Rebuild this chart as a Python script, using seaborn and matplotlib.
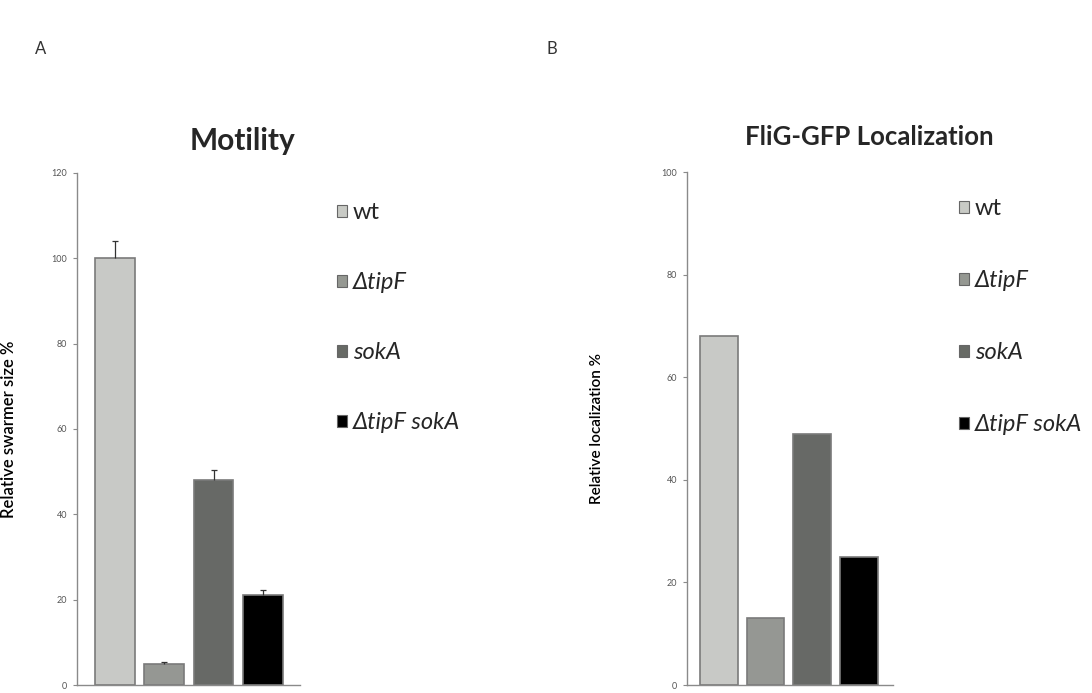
import matplotlib
matplotlib.use("Agg")
import matplotlib.pyplot as plt
import matplotlib.patches as mpatches
import seaborn as sns
import numpy as np

strains = ["wt", "ΔtipF", "sokA", "ΔtipF sokA"]
colors = ["#c8cac5", "#959892", "#676a65", "#000000"]
italic = [False, True, True, True]

# panel A: motility
motility = [100, 5, 48, 21]
motility_err = [4, 0.3, 2.5, 1.2]
motility_ticks = [0, 20, 40, 60, 80, 100, 120]

# panel B: FliG-GFP localization
localization = [68, 13, 49, 25]
localization_ticks = [0, 20, 40, 60, 80, 100]

sns.set_style("white")
plt.rcParams["font.family"] = ["Lato", "DejaVu Sans"]

fig = plt.figure(figsize=(10.92, 6.93), dpi=100)
axA = fig.add_axes([0.0705, 0.0115, 0.204, 0.739])
axB = fig.add_axes([0.629, 0.0115, 0.1886, 0.740])


def styleAxis(ax, ticks, ylabel, labelx, labelsize):
    ax.set_ylim(ticks[0], ticks[-1])
    ax.set_yticks(ticks)
    ax.set_xticks([])
    ax.set_xlabel("")
    ax.set_ylabel(ylabel, fontsize=labelsize, color="black", fontweight="semibold")
    ax.yaxis.set_label_coords(labelx, 0.5)
    for side in ["top", "right"]:
        ax.spines[side].set_visible(False)
    for side in ["left", "bottom"]:
        ax.spines[side].set_color("#8a8a8a")
        ax.spines[side].set_linewidth(1.0)
    ax.tick_params(axis="y", direction="out", length=3, width=0.8, color="#8a8a8a",
                   labelsize=6.5, labelcolor="#555555", left=True, pad=4)


def addLegend(ax, anchor, spacing):
    handles = [mpatches.Patch(facecolor=c, edgecolor="#666666", linewidth=0.8) for c in colors]
    leg = ax.legend(handles, strains, loc="upper left", bbox_to_anchor=anchor,
                    bbox_transform=fig.transFigure, frameon=False, fontsize=17,
                    labelspacing=spacing, handlelength=0.42, handleheight=0.42,
                    handletextpad=0.22, borderaxespad=0)
    for txt, it in zip(leg.get_texts(), italic):
        if it:
            txt.set_style("italic")
    return leg


# panel A
sns.barplot(x=strains, y=motility, hue=strains, palette=colors, order=strains,
            hue_order=strains, width=0.81, edgecolor="#7a7a7a", linewidth=1.2,
            legend=False, ax=axA)
_, caps, _ = axA.errorbar(np.arange(len(strains)), motility,
                          yerr=[np.zeros(len(motility)), motility_err],
                          fmt="none", ecolor="#333333", elinewidth=0.9,
                          capsize=2.5, capthick=0.9)
caps[0].set_visible(False)
axA.set_xlim(-0.77, 3.75)
styleAxis(axA, motility_ticks, "Relative swarmer size %", -0.27, 12)
addLegend(axA, (0.3004, 0.722), 2.08)

# panel B
sns.barplot(x=strains, y=localization, hue=strains, palette=colors, order=strains,
            hue_order=strains, width=0.81, edgecolor="#7a7a7a", linewidth=1.2,
            legend=False, ax=axB)
axB.set_xlim(-0.685, 3.73)
styleAxis(axB, localization_ticks, "Relative localization %", -0.40, 11)
addLegend(axB, (0.870, 0.7276), 2.16)

fig.text(0.2225, 0.796, "Motility", fontsize=21.5, fontweight="bold", ha="center", va="center")
fig.text(0.796, 0.803, "FliG-GFP Localization", fontsize=18.5, fontweight="bold",
         ha="center", va="center")
fig.text(0.037, 0.93, "A", fontsize=12, color="#333333", ha="center", va="center")
fig.text(0.505, 0.93, "B", fontsize=12, color="#333333", ha="center", va="center")

fig.savefig("out.png", dpi=100, facecolor="w")
plt.close(fig)
